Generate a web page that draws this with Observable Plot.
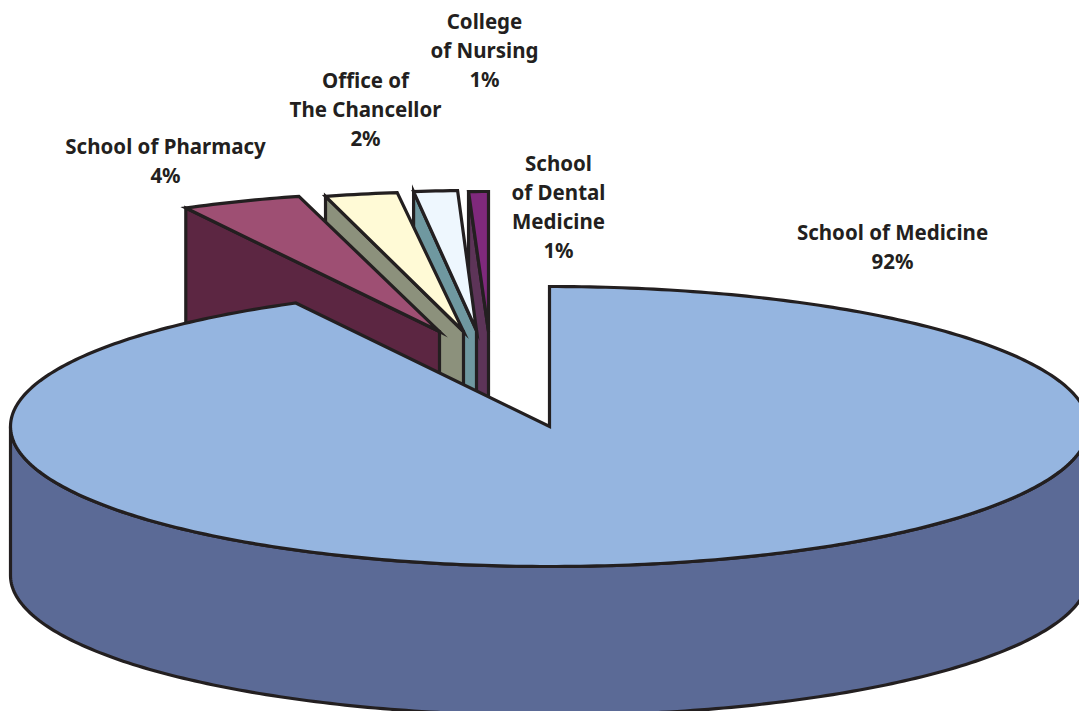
<!DOCTYPE html>
<html>
<head>
<meta charset="utf-8">
<style>html,body{margin:0;padding:0;background:#fff;overflow:hidden}svg{display:block}</style>
<script src="https://cdn.jsdelivr.net/npm/d3@7"></script>
<script src="https://cdn.jsdelivr.net/npm/@observablehq/plot@0.6"></script>
</head>
<body>
<div id="chart"></div>
<script>
// Data, clockwise from 12 o'clock
const schools = ["School of Medicine", "School of Pharmacy", "Office of The Chancellor", "College of Nursing", "School of Dental Medicine"];
const shares = [92.2, 3.6, 2.2, 1.4, 0.6];
const labels = ["School of Medicine\n92%", "School of Pharmacy\n4%", "Office of\nThe Chancellor\n2%", "College\nof Nursing\n1%", "School\nof Dental\nMedicine\n1%"];

// Styling and layout
const topColors = ["#95b5e0", "#9e4f73", "#fffad6", "#eef7fe", "#7f297c"];
const wallColors = ["#5b6a96", "#5c2642", "#8c917c", "#6f98a0", "#5d3458"];
const apexX = [549, 439, 463, 476, 488];
const apexY = [426, 331, 331, 330, 331];
const radiiX = [539, 539, 529, 502, 530];
const labelX = [892, 165, 365, 484, 558];
const labelY = [245, 159, 107.5, 48.5, 205];
const ink = "#231f20";
const ry = 140, depth = 149;

const cum = d3.cumsum(shares);
const toAngle = p => p / 100 * 2 * Math.PI;
const rim = (i, a) => ({x: apexX[i] + radiiX[i] * Math.sin(a), y: apexY[i] - ry * Math.cos(a)});
const arc = (i, a0, a1) => {
  const n = Math.ceil(Math.abs(a1 - a0) / 0.015);
  return d3.range(n + 1).map(k => rim(i, a0 + (a1 - a0) * k / n));
};
const poly = (pts, fill) => Plot.line(pts, {x: "x", y: "y", fill, stroke: ink, strokeWidth: 3.2, strokeLinejoin: "miter", strokeMiterlimit: 8, curve: "linear-closed"});

const marks = [];
// Exploded slices, back to front: dental, nursing, office, pharmacy
for (const i of [4, 3, 2, 1]) {
  const a0 = toAngle(cum[i - 1]), a1 = toAngle(cum[i]);
  const s = rim(i, a0);
  const apex = {x: apexX[i], y: apexY[i]};
  const drop = p => ({x: p.x, y: p.y + depth});
  marks.push(poly([s, drop(s), drop(apex), apex], wallColors[i]));
  marks.push(poly([apex, ...arc(i, a0, a1)], topColors[i]));
}
// Main slice: outer wall, then top face
const front = arc(0, Math.PI / 2, 3 * Math.PI / 2);
marks.push(poly([...front, ...front.slice().reverse().map(p => ({x: p.x, y: p.y + depth}))], wallColors[0]));
marks.push(poly([{x: apexX[0], y: apexY[0]}, ...arc(0, 0, toAngle(cum[0]))], topColors[0]));

marks.push(Plot.text(labels.map((text, i) => ({text, x: labelX[i], y: labelY[i]})), {
  x: "x", y: "y", text: "text", textAnchor: "middle", lineAnchor: "middle", lineHeight: 1.415,
  fontFamily: "'Noto Sans'", fontWeight: 700, fontSize: 20.5, fill: ink
}));

document.getElementById("chart").append(Plot.plot({
  width: 1079, height: 711, margin: 0,
  x: {domain: [0, 1079], range: [0, 1079], axis: null},
  y: {domain: [0, 711], range: [0, 711], axis: null},
  style: {background: "#fff"},
  marks
}));
</script>
</body>
</html>
